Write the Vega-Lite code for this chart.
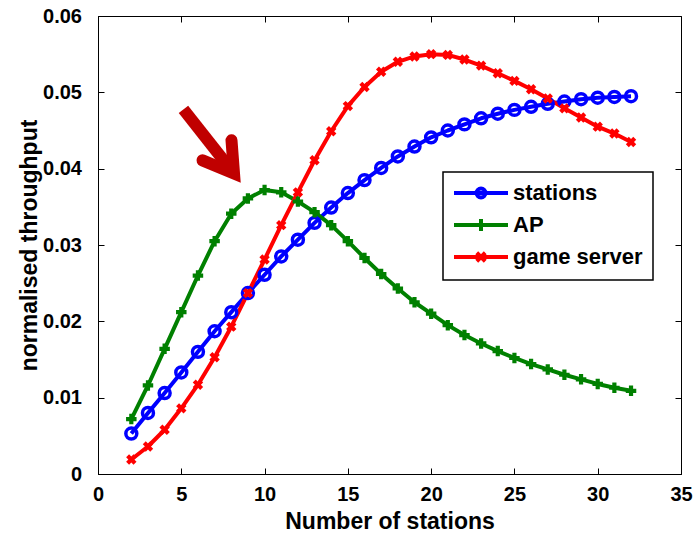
{
  "$schema": "https://vega.github.io/schema/vega-lite/v6.json",
  "width": 583,
  "height": 458,
  "autosize": "none",
  "padding": {"left": 98, "top": 16, "right": 15, "bottom": 60},
  "background": "white",
  "config": {
    "view": {"stroke": "black", "strokeWidth": 1},
    "font": "Liberation Sans",
    "axis": {
      "grid": false,
      "domainColor": "black",
      "domainWidth": 1,
      "tickColor": "black",
      "tickWidth": 1,
      "tickSize": -6,
      "labelFont": "Liberation Sans",
      "labelFontSize": 20,
      "labelFontWeight": "bold",
      "labelColor": "black",
      "titleFont": "Liberation Sans",
      "titleFontSize": 23,
      "titleFontWeight": "bold",
      "titleColor": "black"
    }
  },
  "datasets": {
    "throughput": [
      {"n": 2, "series": "stations", "value": 0.0053},
      {"n": 3, "series": "stations", "value": 0.0080},
      {"n": 4, "series": "stations", "value": 0.0106},
      {"n": 5, "series": "stations", "value": 0.0133},
      {"n": 6, "series": "stations", "value": 0.0160},
      {"n": 7, "series": "stations", "value": 0.0187},
      {"n": 8, "series": "stations", "value": 0.0212},
      {"n": 9, "series": "stations", "value": 0.0237},
      {"n": 10, "series": "stations", "value": 0.0261},
      {"n": 11, "series": "stations", "value": 0.0285},
      {"n": 12, "series": "stations", "value": 0.0307},
      {"n": 13, "series": "stations", "value": 0.0329},
      {"n": 14, "series": "stations", "value": 0.0349},
      {"n": 15, "series": "stations", "value": 0.0368},
      {"n": 16, "series": "stations", "value": 0.0385},
      {"n": 17, "series": "stations", "value": 0.0401},
      {"n": 18, "series": "stations", "value": 0.0416},
      {"n": 19, "series": "stations", "value": 0.0429},
      {"n": 20, "series": "stations", "value": 0.0441},
      {"n": 21, "series": "stations", "value": 0.0450},
      {"n": 22, "series": "stations", "value": 0.0458},
      {"n": 23, "series": "stations", "value": 0.0466},
      {"n": 24, "series": "stations", "value": 0.0472},
      {"n": 25, "series": "stations", "value": 0.0477},
      {"n": 26, "series": "stations", "value": 0.0481},
      {"n": 27, "series": "stations", "value": 0.0485},
      {"n": 28, "series": "stations", "value": 0.0488},
      {"n": 29, "series": "stations", "value": 0.0491},
      {"n": 30, "series": "stations", "value": 0.0493},
      {"n": 31, "series": "stations", "value": 0.0494},
      {"n": 32, "series": "stations", "value": 0.0495},
      {"n": 2, "series": "AP", "value": 0.0072},
      {"n": 3, "series": "AP", "value": 0.0116},
      {"n": 4, "series": "AP", "value": 0.0164},
      {"n": 5, "series": "AP", "value": 0.0212},
      {"n": 6, "series": "AP", "value": 0.0260},
      {"n": 7, "series": "AP", "value": 0.0305},
      {"n": 8, "series": "AP", "value": 0.0341},
      {"n": 9, "series": "AP", "value": 0.0361},
      {"n": 10, "series": "AP", "value": 0.0372},
      {"n": 11, "series": "AP", "value": 0.0369},
      {"n": 12, "series": "AP", "value": 0.0357},
      {"n": 13, "series": "AP", "value": 0.0343},
      {"n": 14, "series": "AP", "value": 0.0326},
      {"n": 15, "series": "AP", "value": 0.0305},
      {"n": 16, "series": "AP", "value": 0.0283},
      {"n": 17, "series": "AP", "value": 0.0262},
      {"n": 18, "series": "AP", "value": 0.0243},
      {"n": 19, "series": "AP", "value": 0.0225},
      {"n": 20, "series": "AP", "value": 0.0210},
      {"n": 21, "series": "AP", "value": 0.0195},
      {"n": 22, "series": "AP", "value": 0.0182},
      {"n": 23, "series": "AP", "value": 0.0171},
      {"n": 24, "series": "AP", "value": 0.0161},
      {"n": 25, "series": "AP", "value": 0.0152},
      {"n": 26, "series": "AP", "value": 0.0144},
      {"n": 27, "series": "AP", "value": 0.0137},
      {"n": 28, "series": "AP", "value": 0.0130},
      {"n": 29, "series": "AP", "value": 0.0124},
      {"n": 30, "series": "AP", "value": 0.0118},
      {"n": 31, "series": "AP", "value": 0.0113},
      {"n": 32, "series": "AP", "value": 0.0109},
      {"n": 2, "series": "game server", "value": 0.0019},
      {"n": 3, "series": "game server", "value": 0.0036},
      {"n": 4, "series": "game server", "value": 0.0058},
      {"n": 5, "series": "game server", "value": 0.0086},
      {"n": 6, "series": "game server", "value": 0.0117},
      {"n": 7, "series": "game server", "value": 0.0153},
      {"n": 8, "series": "game server", "value": 0.0193},
      {"n": 9, "series": "game server", "value": 0.0237},
      {"n": 10, "series": "game server", "value": 0.0281},
      {"n": 11, "series": "game server", "value": 0.0326},
      {"n": 12, "series": "game server", "value": 0.0369},
      {"n": 13, "series": "game server", "value": 0.0411},
      {"n": 14, "series": "game server", "value": 0.0449},
      {"n": 15, "series": "game server", "value": 0.0482},
      {"n": 16, "series": "game server", "value": 0.0507},
      {"n": 17, "series": "game server", "value": 0.0527},
      {"n": 18, "series": "game server", "value": 0.0540},
      {"n": 19, "series": "game server", "value": 0.0547},
      {"n": 20, "series": "game server", "value": 0.0550},
      {"n": 21, "series": "game server", "value": 0.0549},
      {"n": 22, "series": "game server", "value": 0.0543},
      {"n": 23, "series": "game server", "value": 0.0535},
      {"n": 24, "series": "game server", "value": 0.0525},
      {"n": 25, "series": "game server", "value": 0.0515},
      {"n": 26, "series": "game server", "value": 0.0504},
      {"n": 27, "series": "game server", "value": 0.0492},
      {"n": 28, "series": "game server", "value": 0.0479},
      {"n": 29, "series": "game server", "value": 0.0467},
      {"n": 30, "series": "game server", "value": 0.0455},
      {"n": 31, "series": "game server", "value": 0.0446},
      {"n": 32, "series": "game server", "value": 0.0435}
    ],
    "arrowShaft": [
      {"n": 5.13, "value": 0.04777, "n2": 8.165, "value2": 0.03937}
    ],
    "arrowHead": [
      {"step": 1, "n": 6.274, "value": 0.04109},
      {"step": 2, "n": 8.165, "value": 0.03937},
      {"step": 3, "n": 8.015, "value": 0.04371}
    ]
  },
  "layer": [
    {
      "data": {"name": "throughput"},
      "mark": {"type": "line", "strokeWidth": 4, "strokeJoin": "round"},
      "encoding": {
        "x": {
          "field": "n", "type": "quantitative",
          "scale": {"domain": [0, 35], "nice": false, "zero": false},
          "axis": {"orient": "bottom", "title": "Number of stations", "values": [0, 5, 10, 15, 20, 25, 30, 35], "format": "d", "labelPadding": 16, "titleBaseline": "alphabetic", "titleY": 54.5, "labelFlush": false}
        },
        "y": {
          "field": "value", "type": "quantitative",
          "scale": {"domain": [0, 0.06], "nice": false},
          "axis": {"orient": "left", "title": "normalised throughput", "values": [0, 0.01, 0.02, 0.03, 0.04, 0.05, 0.06], "format": ".2~f", "labelPadding": 22.5, "titleBaseline": "alphabetic", "titleX": -61.5, "labelFlush": false}
        },
        "color": {
          "field": "series", "type": "nominal",
          "scale": {"domain": ["stations", "AP", "game server"], "range": ["#0000ff", "#008000", "#ff0000"]},
          "legend": {
            "orient": "none",
            "legendX": 345,
            "legendY": 156,
            "title": null,
            "padding": 10,
            "strokeColor": "black",
            "fillColor": "white",
            "symbolSize": 100,
            "symbolStrokeWidth": 4,
            "symbolOffset": 17,
            "labelOffset": 21,
            "rowPadding": 5,
            "labelFont": "Liberation Sans",
            "labelFontSize": 22,
            "labelFontWeight": "bold",
            "labelColor": "black",
            "encode": {
              "legend": {"update": {"strokeWidth": {"value": 1.5}}},
              "symbols": {
                "update": {
                  "shape": {"signal": "datum.value === 'stations' ? 'M-5.4,0H5.4M-0.9,0A0.9,0.9 0 1,0 0.9,0A0.9,0.9 0 1,0 -0.9,0' : datum.value === 'AP' ? 'M-5.4,0H5.4M0,-1.2V1.2' : 'M-5.4,0H5.4M-0.85,-0.85L0.85,0.85M-0.85,0.85L0.85,-0.85'"},
                  "fill": {"value": "transparent"},
                  "strokeWidth": {"value": 4}
                }
              }
            }
          }
        }
      }
    },
    {
      "data": {"name": "throughput"},
      "transform": [{"filter": "datum.series === 'stations'"}],
      "mark": {"type": "point", "shape": "circle", "filled": false, "size": 120, "strokeWidth": 3.5, "color": "#0000ff", "opacity": 1},
      "encoding": {
        "x": {"field": "n", "type": "quantitative", "axis": null},
        "y": {"field": "value", "type": "quantitative", "axis": null}
      }
    },
    {
      "data": {"name": "throughput"},
      "transform": [{"filter": "datum.series === 'AP'"}],
      "mark": {"type": "point", "shape": "cross", "filled": true, "size": 110, "strokeWidth": 0, "color": "#008000", "opacity": 1},
      "encoding": {
        "x": {"field": "n", "type": "quantitative", "axis": null},
        "y": {"field": "value", "type": "quantitative", "axis": null}
      }
    },
    {
      "data": {"name": "throughput"},
      "transform": [{"filter": "datum.series === 'game server'"}],
      "mark": {"type": "point", "shape": "cross", "angle": 45, "filled": true, "size": 110, "strokeWidth": 0, "color": "#ff0000", "opacity": 1},
      "encoding": {
        "x": {"field": "n", "type": "quantitative", "axis": null},
        "y": {"field": "value", "type": "quantitative", "axis": null}
      }
    },
    {
      "data": {"name": "arrowShaft"},
      "mark": {"type": "rule", "strokeWidth": 12, "strokeCap": "butt", "color": "#c00000"},
      "encoding": {
        "x": {"field": "n", "type": "quantitative", "axis": null},
        "y": {"field": "value", "type": "quantitative", "axis": null},
        "x2": {"field": "n2"},
        "y2": {"field": "value2"}
      }
    },
    {
      "data": {"name": "arrowHead"},
      "mark": {"type": "line", "strokeWidth": 12, "strokeCap": "round", "strokeJoin": "miter", "strokeMiterLimit": 10, "color": "#c00000"},
      "encoding": {
        "x": {"field": "n", "type": "quantitative", "axis": null},
        "y": {"field": "value", "type": "quantitative", "axis": null},
        "order": {"field": "step", "type": "quantitative"}
      }
    },
    {
      "data": {"name": "throughput"},
      "mark": {"type": "point", "opacity": 0},
      "encoding": {
        "x": {"field": "n", "type": "quantitative", "axis": {"orient": "top", "title": null, "labels": false, "values": [0, 5, 10, 15, 20, 25, 30, 35], "domain": false}},
        "y": {"field": "value", "type": "quantitative", "axis": {"orient": "right", "title": null, "labels": false, "values": [0, 0.01, 0.02, 0.03, 0.04, 0.05, 0.06], "domain": false}}
      }
    }
  ]
}
